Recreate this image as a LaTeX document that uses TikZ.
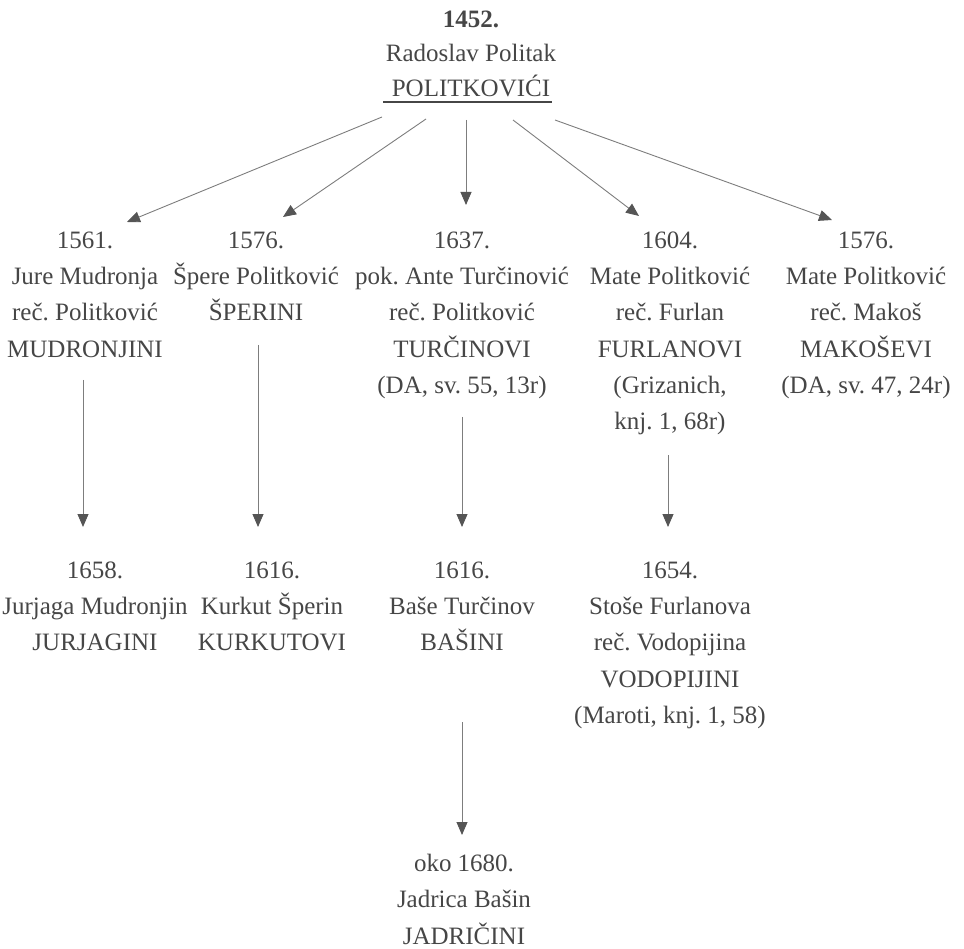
\documentclass[tikz,border=0pt]{standalone}
\usepackage{fontspec}
\setmainfont{Liberation Serif}
\usetikzlibrary{arrows.meta}
\frenchspacing
\definecolor{txt}{RGB}{70,70,70}
\definecolor{linegray}{RGB}{125,125,125}
\definecolor{headgray}{RGB}{85,85,85}
\newcommand\firststrut{\rule{0pt}{20pt}}
\tikzset{
  person/.style={align=center, inner sep=0pt, anchor=north, text=txt,
    font=\fontsize{25}{36.3}\selectfont\frenchspacing},
  arr/.style={draw=linegray, line width=0.9pt,
    -{Triangle[length=13pt,width=11pt,color=headgray]}},
  uline/.style={draw=txt, line width=1.1pt}
}
\begin{document}
\begin{tikzpicture}[x=1pt,y=-1pt]
\useasboundingbox (0,0) rectangle (964,949);

% root
\node[person, font=\fontsize{25}{34.5}\selectfont\frenchspacing] (root) at (471,7)
  {\firststrut\textbf{1452.}\\Radoslav Politak\\POLITKOVIĆI};
\coordinate (ulA) at (383,102);
\coordinate (ulB) at (552,102);
\draw[uline] (ulA) -- (ulB);

% level 1
\node[person] (c1) at (85,228)
  {\firststrut 1561.\\Jure Mudronja\\reč. Politković\\MUDRONJINI};
\node[person] (c2) at (256,228)
  {\firststrut 1576.\\Špere Politković\\ŠPERINI};
\node[person] (c3) at (462,228)
  {\firststrut 1637.\\pok. Ante Turčinović\\reč. Politković\\TURČINOVI\\(DA, sv. 55, 13r)};
\node[person] (c4) at (670,228)
  {\firststrut 1604.\\Mate Politković\\reč. Furlan\\FURLANOVI\\(Grizanich,\\knj. 1, 68r)};
\node[person] (c5) at (866,228)
  {\firststrut 1576.\\Mate Politković\\reč. Makoš\\MAKOŠEVI\\(DA, sv. 47, 24r)};

% level 2
\node[person] (d1) at (95,558)
  {\firststrut 1658.\\Jurjaga Mudronjin\\JURJAGINI};
\node[person] (d2) at (272,558)
  {\firststrut 1616.\\Kurkut Šperin\\KURKUTOVI};
\node[person] (d3) at (462,558)
  {\firststrut 1616.\\Baše Turčinov\\BAŠINI};
\node[person] (d4) at (670,558)
  {\firststrut 1654.\\Stoše Furlanova\\reč. Vodopijina\\VODOPIJINI\\(Maroti, knj. 1, 58)};

% level 3
\node[person, font=\fontsize{25}{36.5}\selectfont\frenchspacing] (e3) at (464,851)
  {\firststrut oko 1680.\\Jadrica Bašin\\JADRIČINI};

% connector end points
\coordinate (r1) at (382,117);
\coordinate (r2) at (426,119);
\coordinate (r3) at (466,120);
\coordinate (r4) at (513,120);
\coordinate (r5) at (555,120);
\coordinate (t1) at (127,222);
\coordinate (t2) at (283,217);
\coordinate (t3) at (466,205);
\coordinate (t4) at (639,216);
\coordinate (t5) at (832,220);

\draw[arr] (r1) -- (t1);
\draw[arr] (r2) -- (t2);
\draw[arr] (r3) -- (t3);
\draw[arr] (r4) -- (t4);
\draw[arr] (r5) -- (t5);

\coordinate (s1) at (83,380);   \coordinate (u1) at (83,527);
\coordinate (s2) at (258,345);  \coordinate (u2) at (258,527);
\coordinate (s3) at (462,417);  \coordinate (u3) at (462,527);
\coordinate (s4) at (668,455);  \coordinate (u4) at (668,527);
\coordinate (s5) at (462,722);  \coordinate (u5) at (462,835);

\draw[arr] (s1) -- (u1);
\draw[arr] (s2) -- (u2);
\draw[arr] (s3) -- (u3);
\draw[arr] (s4) -- (u4);
\draw[arr] (s5) -- (u5);
\end{tikzpicture}
\end{document}
